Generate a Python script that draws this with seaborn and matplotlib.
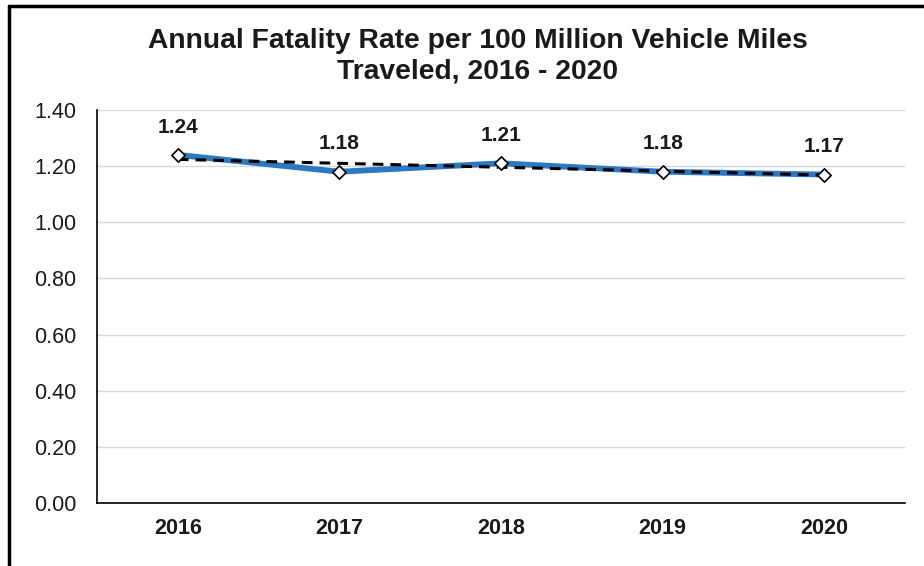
# fatality_rate_chart.py
import numpy as np
import pandas as pd
import matplotlib.pyplot as plt
from matplotlib.lines import Line2D
import seaborn as sns

# Data
years = ['2016', '2017', '2018', '2019', '2020']
rates = [1.24, 1.18, 1.21, 1.18, 1.17]
y_ticks = [0.0, 0.2, 0.4, 0.6, 0.8, 1.0, 1.2, 1.4]

df = pd.DataFrame({'pos': np.arange(len(years)), 'year': years, 'rate': rates})

sns.set_style("white")
plt.rcParams['font.family'] = ['Liberation Sans', 'DejaVu Sans']

fig = plt.figure(figsize=(9.24, 5.66), dpi=100)
ax = fig.add_axes([0.105, 0.1113, 0.8744, 0.6944])

blue = '#2B79C2'

# Actual rate line
sns.lineplot(data=df, x='pos', y='rate', ax=ax, color=blue, linewidth=4.2, zorder=3)

# Linear trend line (dashed)
sns.regplot(data=df, x='pos', y='rate', ax=ax, scatter=False, ci=None, truncate=True,
            line_kws=dict(color='black', linewidth=2.2, linestyle=(0, (3.5, 2.3)), zorder=4))

# Diamond markers
sns.scatterplot(data=df, x='pos', y='rate', ax=ax, marker='D', s=46, color='white',
                edgecolor='black', linewidth=1.2, zorder=5)

# Data labels
for x, y in zip(df['pos'], df['rate']):
    ax.annotate(f'{y:.2f}', (x, y), xytext=(0, 20), textcoords='offset points',
                ha='center', va='center', fontsize=15, fontweight='bold', color='#1a1a1a')

# Axes
ax.set_xlim(-0.5, len(years) - 0.5)
ax.set_ylim(0, 1.4)
ax.set_yticks(y_ticks)
ax.set_yticklabels([f'{v:.2f}' for v in y_ticks], fontsize=15.5, color='#1a1a1a')
ax.set_xticks(df['pos'])
ax.set_xticklabels(years, fontsize=15.5, fontweight='bold', color='#1a1a1a')
ax.set_xticks(np.arange(-0.5, len(years)), minor=True)
ax.tick_params(axis='x', which='major', length=0, pad=11)
ax.tick_params(axis='x', which='minor', length=6, width=1, color='black', direction='out')
ax.tick_params(axis='y', length=6, width=1, color='black', direction='out', pad=9)
ax.set_xlabel('')
ax.set_ylabel('')

ax.yaxis.grid(True, color='#d9d9d9', linewidth=1)
ax.set_axisbelow(True)
for side in ['top', 'right']:
    ax.spines[side].set_visible(False)
for side in ['left', 'bottom']:
    ax.spines[side].set_color('black')
    ax.spines[side].set_linewidth(1.2)

# Title
fig.text(0.517, 0.9010, 'Annual Fatality Rate per 100 Million Vehicle Miles\nTraveled, 2016 - 2020',
         ha='center', va='center', fontsize=20.3, fontweight='bold', color='#1a1a1a',
         linespacing=1.2)

# Chart border
fig.add_artist(Line2D([9 / 924, 1], [1 - 6 / 566, 1 - 6 / 566], color='black', linewidth=2.5,
                      transform=fig.transFigure))
fig.add_artist(Line2D([9 / 924, 9 / 924], [0, 1 - 6 / 566], color='black', linewidth=2.5,
                      transform=fig.transFigure))

plt.savefig('out.png', dpi=100)
